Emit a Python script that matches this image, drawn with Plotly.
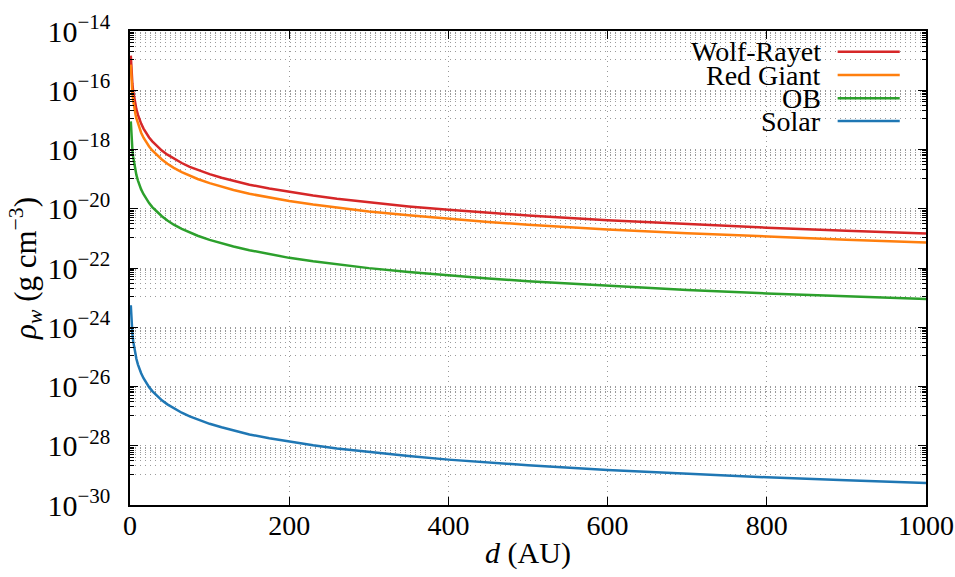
import plotly.graph_objects as go

# Distance from the star (AU)
d_au = [1, 1.3, 1.6, 2, 2.5, 3, 4, 5, 6, 7, 8, 10, 12, 14, 17, 20, 24, 28, 33,
        40, 47, 55, 65, 75, 85, 100, 115, 130, 150, 175, 200, 230, 260, 300,
        350, 400, 450, 500, 600, 700, 800, 900, 1000]

# Wind density (g cm^-3) for each stellar type
rho_wolf_rayet = [1.47e-15, 8.7e-16, 5.7e-16, 3.7e-16, 2.35e-16, 1.63e-16, 9.2e-17,
                  5.9e-17, 4.1e-17, 3.0e-17, 2.3e-17, 1.47e-17, 1.02e-17, 7.5e-18,
                  5.1e-18, 3.7e-18, 2.55e-18, 1.88e-18, 1.35e-18, 9.2e-19, 6.7e-19,
                  4.9e-19, 3.5e-19, 2.6e-19, 2.03e-19, 1.47e-19, 1.11e-19, 8.7e-20,
                  6.5e-20, 4.8e-20, 3.7e-20, 2.78e-20, 2.17e-20, 1.63e-20, 1.2e-20,
                  9.2e-21, 7.3e-21, 5.9e-21, 4.1e-21, 3.0e-21, 2.3e-21, 1.82e-21,
                  1.47e-21]
rho_red_giant = [7.3e-16, 4.3e-16, 2.85e-16, 1.83e-16, 1.17e-16, 8.1e-17, 4.6e-17,
                 2.9e-17, 2.0e-17, 1.49e-17, 1.14e-17, 7.3e-18, 5.1e-18, 3.7e-18,
                 2.5e-18, 1.83e-18, 1.27e-18, 9.3e-19, 6.7e-19, 4.6e-19, 3.3e-19,
                 2.4e-19, 1.73e-19, 1.3e-19, 1.01e-19, 7.3e-20, 5.5e-20, 4.3e-20,
                 3.2e-20, 2.4e-20, 1.83e-20, 1.38e-20, 1.08e-20, 8.1e-21, 6.0e-21,
                 4.6e-21, 3.6e-21, 2.9e-21, 2.0e-21, 1.49e-21, 1.14e-21, 9.0e-22,
                 7.3e-22]
rho_ob = [8.9e-18, 5.3e-18, 3.5e-18, 2.2e-18, 1.42e-18, 9.9e-19, 5.6e-19,
          3.6e-19, 2.5e-19, 1.82e-19, 1.39e-19, 8.9e-20, 6.2e-20, 4.5e-20,
          3.1e-20, 2.2e-20, 1.55e-20, 1.14e-20, 8.2e-21, 5.6e-21, 4.0e-21,
          2.9e-21, 2.1e-21, 1.58e-21, 1.23e-21, 8.9e-22, 6.7e-22, 5.3e-22,
          4.0e-22, 2.9e-22, 2.2e-22, 1.68e-22, 1.32e-22, 9.9e-23, 7.3e-23,
          5.6e-23, 4.4e-23, 3.6e-23, 2.5e-23, 1.82e-23, 1.39e-23, 1.1e-23,
          8.9e-24]
rho_solar = [5.5e-24, 3.3e-24, 2.15e-24, 1.38e-24, 8.8e-25, 6.1e-25, 3.4e-25,
             2.2e-25, 1.53e-25, 1.12e-25, 8.6e-26, 5.5e-26, 3.8e-26, 2.8e-26,
             1.9e-26, 1.38e-26, 9.5e-27, 7.0e-27, 5.0e-27, 3.4e-27, 2.5e-27,
             1.82e-27, 1.3e-27, 9.8e-28, 7.6e-28, 5.5e-28, 4.2e-28, 3.3e-28,
             2.4e-28, 1.8e-28, 1.38e-28, 1.04e-28, 8.1e-29, 6.1e-29, 4.5e-29,
             3.4e-29, 2.7e-29, 2.2e-29, 1.53e-29, 1.12e-29, 8.6e-30, 6.8e-30,
             5.5e-30]

series_names = ["Wolf-Rayet", "Red Giant", "OB", "Solar"]
series_values = [rho_wolf_rayet, rho_red_giant, rho_ob, rho_solar]
series_colors = ["#d62728", "#ff7f0e", "#2ca02c", "#1f77b4"]

x_ticks = [0, 200, 400, 600, 800, 1000]
y_exponents = [-14, -16, -18, -20, -22, -24, -26, -28, -30]

FONT = "Liberation Serif, Times New Roman, serif"
GRID = "#9a9a9a"
DOTS = "1px,4px"

y_tickvals = [10.0 ** e for e in y_exponents]
y_ticktext = ["10<sup>\u2212%d</sup>" % (-e) for e in y_exponents]

# minor ticks: linear steps between neighbouring major ticks (factor 100 apart)
y_minor = []
for e in y_exponents[:-1]:
    lo, hi = 10.0 ** (e - 2), 10.0 ** e
    y_minor += [lo + k * (hi - lo) / 10 for k in range(1, 10)]

fig = go.Figure()
for name, vals, color in zip(series_names, series_values, series_colors):
    fig.add_trace(go.Scatter(x=d_au, y=vals, mode="lines", name=name,
                             line=dict(color=color, width=2.5),
                             showlegend=False))

fig.update_layout(
    width=955, height=577,
    margin=dict(l=130, r=29, t=31, b=72),
    paper_bgcolor="white", plot_bgcolor="white",
    font=dict(family=FONT, size=28, color="black"),
)

fig.update_xaxes(
    range=[0, 1000], tickvals=x_ticks, automargin=False,
    ticks="inside", ticklen=8, tickwidth=1, tickcolor="black",
    showline=True, linecolor="black", linewidth=1.5, mirror="ticks",
    showgrid=True, gridcolor=GRID, gridwidth=1, griddash=DOTS,
    zeroline=False, ticklabelstandoff=-5,
    tickfont=dict(family=FONT, size=28),
    title=dict(text="<i>d</i> (AU)", font=dict(family=FONT, size=30), standoff=2),
)

fig.update_yaxes(
    type="log", range=[-30, -14], automargin=False,
    tickvals=y_tickvals, ticktext=y_ticktext,
    ticks="inside", ticklen=8, tickwidth=1, tickcolor="black",
    showline=True, linecolor="black", linewidth=1.5, mirror="ticks",
    showgrid=True, gridcolor=GRID, gridwidth=1, griddash=DOTS,
    zeroline=False, ticklabelstandoff=12,
    tickfont=dict(family=FONT, size=30),
    minor=dict(tickvals=y_minor, ticks="inside", ticklen=4, tickcolor="black",
               showgrid=True, gridcolor=GRID, gridwidth=1, griddash=DOTS),
    title=dict(text="<i>\u03c1<sub>w</sub></i> (g cm<sup>\u22123</sup>)",
               font=dict(family=FONT, size=31), standoff=2),
)

# key box in the upper-right corner, text right-aligned with line samples
fig.add_shape(type="rect", xref="paper", yref="paper",
              x0=0.707, x1=0.984, y0=0.783, y1=0.989,
              fillcolor="white", line=dict(width=0), layer="between")
row_y = [0.956, 0.907, 0.858, 0.810]
for name, color, yy in zip(series_names, series_colors, row_y):
    fig.add_annotation(text=name, xref="paper", yref="paper", x=0.871, y=yy,
                       xanchor="right", yanchor="middle", showarrow=False,
                       font=dict(family=FONT, size=28, color="black"))
    fig.add_shape(type="line", xref="paper", yref="paper",
                  x0=0.889, x1=0.967, y0=yy, y1=yy,
                  line=dict(color=color, width=2.5), layer="above")

fig.write_html("out.html")
